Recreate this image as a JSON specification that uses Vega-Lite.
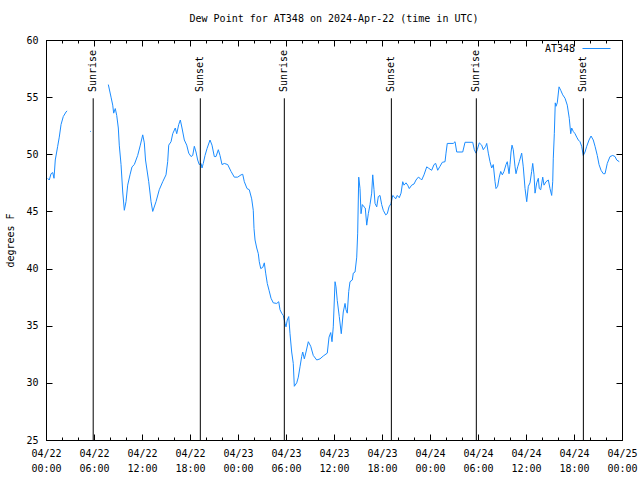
{
  "$schema": "https://vega.github.io/schema/vega-lite/v6.json",
  "width": 576,
  "height": 400,
  "autosize": "none",
  "padding": {"left": 46, "top": 40, "right": 18, "bottom": 40},
  "background": "white",
  "title": {"text": "Dew Point for AT348 on 2024-Apr-22 (time in UTC)", "font": "DejaVu Sans Mono", "fontSize": 10, "fontWeight": "normal", "color": "black", "anchor": "middle", "baseline": "bottom", "offset": 0},
  "config": {
    "view": {"stroke": "black", "strokeWidth": 1},
    "font": "DejaVu Sans Mono",
    "axis": {"grid": false, "domainColor": "black", "tickColor": "black", "labelColor": "black", "titleColor": "black", "labelFont": "DejaVu Sans Mono", "titleFont": "DejaVu Sans Mono", "labelFontSize": 10, "titleFontSize": 10, "titleFontWeight": "normal", "tickWidth": 1, "domainWidth": 1}
  },
  "datasets": {
    "dew": [
      {"h": 0.21, "v": 47.9}, {"h": 0.41, "v": 47.75}, {"h": 0.63, "v": 48.3}, {"h": 0.84, "v": 48.4}, {"h": 1.0, "v": 47.9}, {"h": 1.16, "v": 49.5}, {"h": 1.46, "v": 50.7}, {"h": 1.66, "v": 51.5}, {"h": 1.88, "v": 52.6}, {"h": 2.16, "v": 53.3}, {"h": 2.5, "v": 53.7}, {"h": 2.63, "v": 53.8},
      {"h": 4.0, "v": null},
      {"h": 5.5, "v": 52.0}, {"h": 5.6, "v": 52.0},
      {"h": 7.0, "v": null},
      {"h": 7.79, "v": 56.1}, {"h": 8.13, "v": 55.0}, {"h": 8.34, "v": 54.3}, {"h": 8.46, "v": 53.6}, {"h": 8.66, "v": 54.0}, {"h": 8.84, "v": 53.4}, {"h": 9.04, "v": 52.3}, {"h": 9.16, "v": 50.8}, {"h": 9.38, "v": 49.1}, {"h": 9.59, "v": 46.7}, {"h": 9.79, "v": 45.1}, {"h": 10.0, "v": 45.85}, {"h": 10.21, "v": 47.3}, {"h": 10.5, "v": 48.2}, {"h": 10.75, "v": 48.9}, {"h": 11.04, "v": 49.1}, {"h": 11.46, "v": 49.9}, {"h": 11.79, "v": 50.8}, {"h": 12.09, "v": 51.7}, {"h": 12.29, "v": 51.0}, {"h": 12.44, "v": 49.5},
      {"h": 12.84, "v": 47.6}, {"h": 13.13, "v": 45.85}, {"h": 13.34, "v": 45.0}, {"h": 13.75, "v": 45.85}, {"h": 14.16, "v": 46.9}, {"h": 14.59, "v": 47.6}, {"h": 15.0, "v": 48.2}, {"h": 15.21, "v": 49.35}, {"h": 15.34, "v": 50.8}, {"h": 15.63, "v": 51.1}, {"h": 15.84, "v": 51.8}, {"h": 16.16, "v": 52.3}, {"h": 16.34, "v": 51.8}, {"h": 16.59, "v": 52.6}, {"h": 16.79, "v": 53.0}, {"h": 17.0, "v": 52.3}, {"h": 17.29, "v": 51.25}, {"h": 17.59, "v": 50.8}, {"h": 17.84, "v": 50.1}, {"h": 18.13, "v": 49.8}, {"h": 18.34, "v": 49.9}, {"h": 18.54, "v": 50.7}, {"h": 18.75, "v": 50.2}, {"h": 18.96, "v": 49.5}, {"h": 19.16, "v": 49.1}, {"h": 19.38, "v": 49.2}, {"h": 19.5, "v": 48.8}, {"h": 19.66, "v": 49.2}, {"h": 19.88, "v": 49.9}, {"h": 20.13, "v": 50.5}, {"h": 20.5, "v": 51.25}, {"h": 20.75, "v": 50.8}, {"h": 21.04, "v": 49.8}, {"h": 21.25, "v": 49.8}, {"h": 21.54, "v": 50.4}, {"h": 21.75, "v": 49.9}, {"h": 22.0, "v": 49.1}, {"h": 22.29, "v": 49.2}, {"h": 22.71, "v": 49.1}, {"h": 23.13, "v": 48.5}, {"h": 23.54, "v": 48.0}, {"h": 23.96, "v": 48.0}, {"h": 24.38, "v": 48.2}, {"h": 24.59, "v": 48.25}, {"h": 24.79, "v": 47.6},
      {"h": 25.13, "v": 47.0}, {"h": 25.41, "v": 46.9}, {"h": 25.71, "v": 46.1}, {"h": 25.91, "v": 45.1}, {"h": 26.0, "v": 43.5}, {"h": 26.13, "v": 42.5}, {"h": 26.34, "v": 41.8}, {"h": 26.54, "v": 41.3}, {"h": 26.66, "v": 40.6}, {"h": 26.84, "v": 40.0}, {"h": 27.09, "v": 40.1}, {"h": 27.29, "v": 40.5}, {"h": 27.46, "v": 39.6}, {"h": 27.66, "v": 38.7}, {"h": 27.88, "v": 38.1}, {"h": 28.13, "v": 37.4}, {"h": 28.41, "v": 37.0}, {"h": 28.84, "v": 36.95}, {"h": 29.09, "v": 37.1}, {"h": 29.25, "v": 36.4}, {"h": 29.46, "v": 36.1}, {"h": 29.66, "v": 35.9}, {"h": 29.88, "v": 35.2}, {"h": 30.0, "v": 34.9}, {"h": 30.16, "v": 35.5}, {"h": 30.34, "v": 35.8}, {"h": 30.5, "v": 34.3}, {"h": 30.71, "v": 32.7}, {"h": 30.91, "v": 31.7}, {"h": 31.04, "v": 29.7}, {"h": 31.34, "v": 30.0}, {"h": 31.54, "v": 30.5}, {"h": 31.75, "v": 31.4}, {"h": 31.96, "v": 32.3}, {"h": 32.09, "v": 32.7}, {"h": 32.29, "v": 32.1}, {"h": 32.5, "v": 32.7}, {"h": 32.79, "v": 33.6}, {"h": 33.09, "v": 33.2}, {"h": 33.41, "v": 32.4}, {"h": 33.84, "v": 32.0}, {"h": 34.25, "v": 32.1}, {"h": 34.66, "v": 32.35}, {"h": 35.16, "v": 32.6}, {"h": 35.38, "v": 34.0}, {"h": 35.59, "v": 34.4}, {"h": 35.75, "v": 33.6}, {"h": 35.91, "v": 34.9},
      {"h": 36.13, "v": 38.85}, {"h": 36.25, "v": 38.4}, {"h": 36.41, "v": 37.2}, {"h": 36.66, "v": 35.8}, {"h": 36.91, "v": 34.3}, {"h": 37.16, "v": 36.2}, {"h": 37.38, "v": 36.95}, {"h": 37.5, "v": 36.4}, {"h": 37.66, "v": 36.1}, {"h": 37.84, "v": 38.0}, {"h": 38.0, "v": 38.85}, {"h": 38.29, "v": 39.0}, {"h": 38.41, "v": 39.6}, {"h": 38.63, "v": 39.7}, {"h": 38.84, "v": 41.0}, {"h": 38.96, "v": 43.1}, {"h": 39.09, "v": 48.0}, {"h": 39.25, "v": 47.0}, {"h": 39.38, "v": 44.8}, {"h": 39.54, "v": 45.6}, {"h": 39.75, "v": 45.4}, {"h": 39.91, "v": 45.3}, {"h": 40.09, "v": 43.8}, {"h": 40.29, "v": 44.8}, {"h": 40.5, "v": 45.6}, {"h": 40.71, "v": 46.6}, {"h": 40.84, "v": 48.2}, {"h": 41.0, "v": 46.9}, {"h": 41.13, "v": 45.7}, {"h": 41.34, "v": 45.4}, {"h": 41.54, "v": 46.3}, {"h": 41.75, "v": 46.4}, {"h": 41.96, "v": 45.6}, {"h": 42.16, "v": 45.1}, {"h": 42.46, "v": 44.7}, {"h": 42.66, "v": 44.8}, {"h": 42.88, "v": 45.4}, {"h": 43.13, "v": 45.7}, {"h": 43.34, "v": 46.4}, {"h": 43.5, "v": 46.3}, {"h": 43.71, "v": 46.1}, {"h": 43.91, "v": 46.4}, {"h": 44.16, "v": 46.2}, {"h": 44.38, "v": 46.6}, {"h": 44.59, "v": 47.6}, {"h": 44.75, "v": 47.3}, {"h": 45.0, "v": 47.5}, {"h": 45.21, "v": 47.3}, {"h": 45.41, "v": 47.0}, {"h": 45.71, "v": 47.3}, {"h": 46.0, "v": 47.4}, {"h": 46.25, "v": 47.75}, {"h": 46.54, "v": 48.0}, {"h": 46.75, "v": 47.9}, {"h": 46.96, "v": 47.75}, {"h": 47.25, "v": 48.2}, {"h": 47.59, "v": 48.9}, {"h": 47.79, "v": 48.8}, {"h": 48.21, "v": 48.6}, {"h": 48.5, "v": 49.1}, {"h": 48.71, "v": 49.2}, {"h": 48.96, "v": 48.6}, {"h": 49.25, "v": 48.95}, {"h": 49.54, "v": 49.3}, {"h": 49.88, "v": 49.35}, {"h": 50.0, "v": 50.1}, {"h": 50.16, "v": 50.95}, {"h": 50.91, "v": 50.95}, {"h": 51.13, "v": 51.1}, {"h": 51.34, "v": 50.2}, {"h": 52.09, "v": 50.2}, {"h": 52.38, "v": 51.05}, {"h": 53.34, "v": 51.05}, {"h": 53.54, "v": 50.4}, {"h": 53.75, "v": 50.1}, {"h": 53.91, "v": 50.4}, {"h": 54.16, "v": 51.0}, {"h": 54.46, "v": 50.8}, {"h": 54.66, "v": 50.4}, {"h": 54.96, "v": 50.7}, {"h": 55.09, "v": 50.95}, {"h": 55.29, "v": 50.1}, {"h": 55.5, "v": 49.35}, {"h": 55.71, "v": 48.8}, {"h": 55.91, "v": 49.1}, {"h": 56.13, "v": 47.6}, {"h": 56.25, "v": 47.0}, {"h": 56.46, "v": 47.2}, {"h": 56.66, "v": 48.0}, {"h": 56.84, "v": 48.5}, {"h": 57.04, "v": 48.2}, {"h": 57.25, "v": 48.5}, {"h": 57.5, "v": 49.1}, {"h": 57.66, "v": 49.35}, {"h": 57.88, "v": 48.3}, {"h": 58.0, "v": 49.1}, {"h": 58.13, "v": 50.2}, {"h": 58.25, "v": 50.8}, {"h": 58.41, "v": 50.4}, {"h": 58.63, "v": 48.9}, {"h": 58.75, "v": 48.3}, {"h": 58.96, "v": 48.9}, {"h": 59.16, "v": 49.35},
      {"h": 59.46, "v": 50.1}, {"h": 59.66, "v": 48.9}, {"h": 59.88, "v": 47.0}, {"h": 60.09, "v": 45.85}, {"h": 60.29, "v": 47.2}, {"h": 60.5, "v": 47.5}, {"h": 60.71, "v": 48.5}, {"h": 60.84, "v": 49.2}, {"h": 61.0, "v": 48.2}, {"h": 61.13, "v": 46.6}, {"h": 61.34, "v": 47.5}, {"h": 61.54, "v": 47.9}, {"h": 61.66, "v": 47.0}, {"h": 61.84, "v": 46.9}, {"h": 62.09, "v": 48.0}, {"h": 62.25, "v": 47.3}, {"h": 62.5, "v": 47.6}, {"h": 62.79, "v": 47.75}, {"h": 63.0, "v": 47.0}, {"h": 63.21, "v": 46.4}, {"h": 63.34, "v": 47.6}, {"h": 63.41, "v": 49.6}, {"h": 63.54, "v": 51.8}, {"h": 63.66, "v": 54.5}, {"h": 63.75, "v": 54.2}, {"h": 63.91, "v": 54.5}, {"h": 64.13, "v": 55.9}, {"h": 64.34, "v": 55.6}, {"h": 64.59, "v": 55.2}, {"h": 64.88, "v": 54.9}, {"h": 65.16, "v": 54.3}, {"h": 65.41, "v": 53.15}, {"h": 65.59, "v": 51.8}, {"h": 65.71, "v": 52.3}, {"h": 65.91, "v": 52.0}, {"h": 66.13, "v": 51.8}, {"h": 66.34, "v": 51.5}, {"h": 66.54, "v": 51.25}, {"h": 66.75, "v": 51.1}, {"h": 66.96, "v": 50.7}, {"h": 67.16, "v": 49.9}, {"h": 67.38, "v": 50.2}, {"h": 67.59, "v": 50.7}, {"h": 67.88, "v": 51.25}, {"h": 68.13, "v": 51.6}, {"h": 68.41, "v": 51.25}, {"h": 68.63, "v": 50.7}, {"h": 68.91, "v": 49.9}, {"h": 69.13, "v": 49.1}, {"h": 69.38, "v": 48.6}, {"h": 69.66, "v": 48.3}, {"h": 69.88, "v": 48.3}, {"h": 70.16, "v": 49.2}, {"h": 70.5, "v": 49.8}, {"h": 70.84, "v": 49.9}, {"h": 71.13, "v": 49.8}, {"h": 71.34, "v": 49.5}, {"h": 71.66, "v": 49.35}
    ],
    "sun": [
      {"h": 5.9, "label": "Sunrise"}, {"h": 19.29, "label": "Sunset"},
      {"h": 29.79, "label": "Sunrise"}, {"h": 43.17, "label": "Sunset"},
      {"h": 53.79, "label": "Sunrise"}, {"h": 67.17, "label": "Sunset"}
    ]
  },
  "layer": [
    {
      "data": {"name": "dew"},
      "mark": {"type": "line", "strokeWidth": 1, "invalid": "break-paths-filter-domains"},
      "encoding": {
        "x": {"field": "h", "type": "quantitative", "scale": {"domain": [0, 72], "nice": false, "zero": false},
          "axis": {"orient": "bottom", "title": null, "values": [0,2,4,6,8,10,12,14,16,18,20,22,24,26,28,30,32,34,36,38,40,42,44,46,48,50,52,54,56,58,60,62,64,66,68,70,72],
            "labelExpr": "datum.value % 6 == 0 ? ['04/' + (22 + floor(datum.value / 24)), ((datum.value % 24) < 10 ? '0' : '') + (datum.value % 24) + ':00'] : ''",
            "tickSize": {"condition": {"test": "datum.value % 6 == 0", "value": -6}, "value": -3},
            "labelPadding": 14, "labelLineHeight": 15, "labelBaseline": "top", "labelFlush": false, "labelOverlap": false}},
        "y": {"field": "v", "type": "quantitative", "scale": {"domain": [25, 60], "nice": false, "zero": false},
          "axis": {"orient": "left", "title": "degrees F", "values": [25,30,35,40,45,50,55,60], "tickSize": -6, "labelPadding": 14, "titlePadding": 10}},
        "color": {"datum": "AT348", "type": "nominal", "scale": {"range": ["#1a8cff"]},
          "legend": {"title": null, "orient": "none", "legendX": 536, "legendY": -6, "symbolType": "stroke", "symbolSize": 784, "symbolStrokeWidth": 1, "labelFont": "DejaVu Sans Mono", "labelFontSize": 10, "labelColor": "black", "labelAlign": "right", "labelOffset": -36}}
      }
    },
    {
      "data": {"name": "sun"},
      "mark": {"type": "rule", "color": "black", "strokeWidth": 1},
      "encoding": {
        "x": {"field": "h", "type": "quantitative",
          "axis": {"orient": "top", "title": null, "labels": false, "values": [0,2,4,6,8,10,12,14,16,18,20,22,24,26,28,30,32,34,36,38,40,42,44,46,48,50,52,54,56,58,60,62,64,66,68,70,72],
            "tickSize": {"condition": {"test": "datum.value % 6 == 0", "value": -6}, "value": -3}}},
        "y": {"datum": 25, "type": "quantitative", "axis": {"orient": "right", "title": null, "labels": false, "values": [25,30,35,40,45,50,55,60], "tickSize": -6}},
        "y2": {"datum": 54.9}
      }
    },
    {
      "data": {"name": "sun"},
      "mark": {"type": "text", "angle": 270, "align": "left", "baseline": "middle", "font": "DejaVu Sans Mono", "fontSize": 10, "color": "black"},
      "encoding": {
        "x": {"field": "h", "type": "quantitative", "axis": null},
        "y": {"datum": 55.45, "type": "quantitative", "axis": null},
        "text": {"field": "label"}
      }
    }
  ]
}
